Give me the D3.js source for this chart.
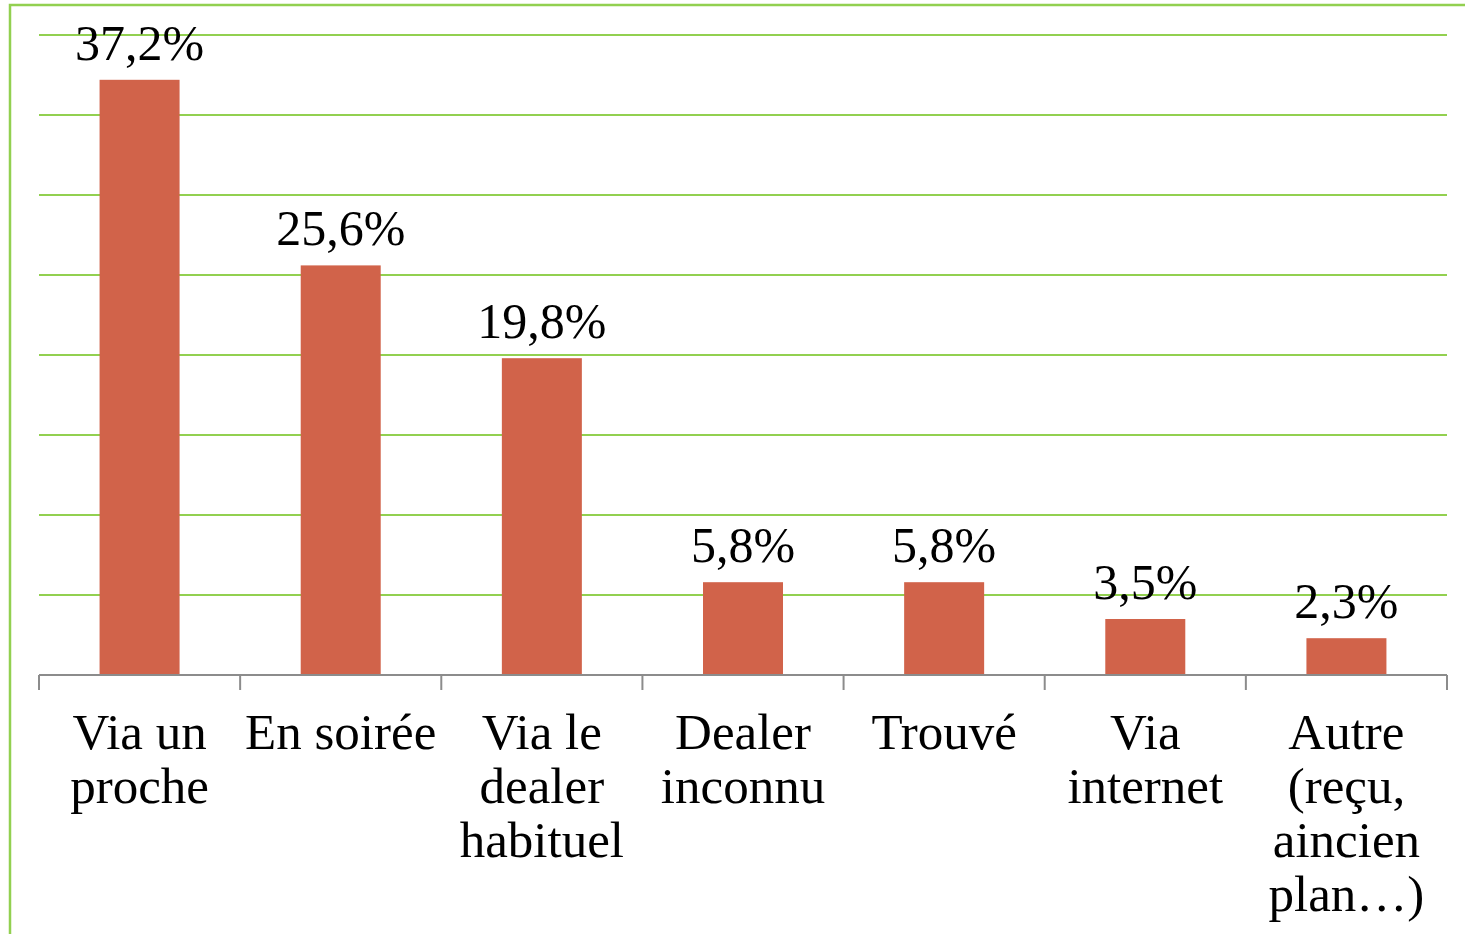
<!DOCTYPE html>
<html>
<head>
<meta charset="utf-8">
<script src="https://cdn.jsdelivr.net/npm/d3@7"></script>
<style>
  body { margin: 0; background: #fff; }
  text { font-family: "Liberation Serif", "DejaVu Serif", serif; fill: #000; }
</style>
</head>
<body>
<div id="main"></div>
<script>
/* Data */
const categories = [
  ["Via un", "proche"],
  ["En soirée"],
  ["Via le", "dealer", "habituel"],
  ["Dealer", "inconnu"],
  ["Trouvé"],
  ["Via", "internet"],
  ["Autre", "(reçu,", "aincien", "plan…)"]
];
const values = [37.2, 25.6, 19.8, 5.8, 5.8, 3.5, 2.3];
const valueLabels = ["37,2%", "25,6%", "19,8%", "5,8%", "5,8%", "3,5%", "2,3%"];
const yTicks = [0, 5, 10, 15, 20, 25, 30, 35, 40];

/* Size */
const width = 1465, height = 934;
const plotLeft = 39, plotRight = 1447, plotTop = 35, base = 675;

const svg = d3.select("#main").append("svg")
  .attr("width", width).attr("height", height);

// outer frame (green)
svg.append("rect")
  .attr("x", 10).attr("y", 5)
  .attr("width", 1470).attr("height", 940)
  .attr("fill", "none")
  .attr("stroke", "#92d050")
  .attr("stroke-width", 2.5);

const x = d3.scaleBand()
  .domain(d3.range(categories.length))
  .range([plotLeft, plotRight])
  .paddingInner(0).paddingOuter(0);

const y = d3.scaleLinear().domain([0, 40]).range([base, plotTop]);

// gridlines
svg.append("g")
  .selectAll("line")
  .data(yTicks.filter(d => d > 0))
  .enter().append("line")
  .attr("x1", plotLeft).attr("x2", plotRight)
  .attr("y1", d => y(d)).attr("y2", d => y(d))
  .attr("stroke", "#92d050")
  .attr("stroke-width", 2);

// bars
const barW = 80;
svg.append("g")
  .selectAll("rect")
  .data(values)
  .enter().append("rect")
  .attr("x", (d, i) => x(i) + x.bandwidth() / 2 - barW / 2)
  .attr("y", d => y(d))
  .attr("width", barW)
  .attr("height", d => base - y(d))
  .attr("fill", "#d1634a");

// value labels
svg.append("g")
  .selectAll("text")
  .data(values)
  .enter().append("text")
  .attr("x", (d, i) => x(i) + x.bandwidth() / 2)
  .attr("y", d => y(d) - 20)
  .attr("text-anchor", "middle")
  .style("font-size", "50px")
  .text((d, i) => valueLabels[i]);

// x axis
const axis = svg.append("g");
axis.append("line")
  .attr("x1", plotLeft).attr("x2", plotRight)
  .attr("y1", base).attr("y2", base)
  .attr("stroke", "#8c8c8c").attr("stroke-width", 2);
axis.selectAll(".tick")
  .data(d3.range(categories.length + 1))
  .enter().append("line")
  .attr("x1", i => plotLeft + i * x.bandwidth())
  .attr("x2", i => plotLeft + i * x.bandwidth())
  .attr("y1", base).attr("y2", base + 15)
  .attr("stroke", "#8c8c8c").attr("stroke-width", 2);

// category labels
const lab = svg.append("g")
  .selectAll("text")
  .data(categories)
  .enter().append("text")
  .attr("text-anchor", "middle")
  .style("font-size", "51px");
lab.each(function(lines, i) {
  const t = d3.select(this);
  lines.forEach((s, k) => {
    t.append("tspan")
      .attr("x", x(i) + x.bandwidth() / 2)
      .attr("y", 749 + k * 54)
      .text(s);
  });
});
</script>
</body>
</html>
